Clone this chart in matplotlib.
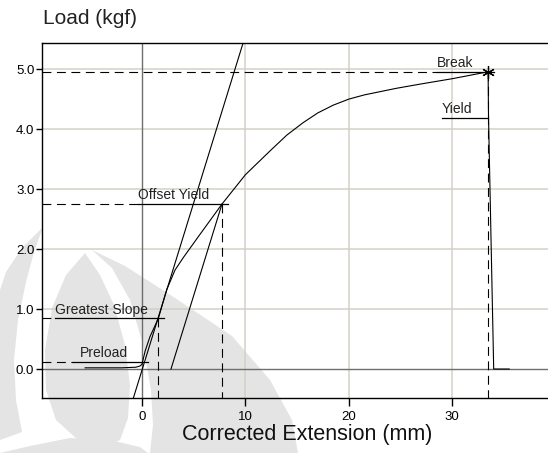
import matplotlib
matplotlib.use('Agg')
import matplotlib.pyplot as plt
from matplotlib.patches import Polygon
from matplotlib.transforms import Affine2D

plt.rcParams['font.family'] = ['Liberation Sans', 'DejaVu Sans']

# Load-extension curve (mm, kgf)
extension = [-5.5, -2.0, -0.6, -0.2, 0.0, 0.3, 0.77, 1.58, 2.38, 3.19, 4.0, 5.5,
             7.73, 10.0, 12.4, 14.0, 15.6, 17.0, 18.5, 20.0, 21.5, 24.6, 26.9,
             30.0, 33.46, 33.5, 34.0, 35.5]
load = [0.02, 0.02, 0.03, 0.05, 0.08, 0.30, 0.54, 0.845, 1.32, 1.65, 1.86, 2.22,
        2.75, 3.24, 3.64, 3.90, 4.11, 4.27, 4.40, 4.50, 4.57, 4.68, 4.75,
        4.84, 4.955, 4.19, 0.0, 0.0]

# greatest slope construction line and the offset line
slope = 0.558
slope_x0 = 0.03
slope_ext = [-0.84, 9.78]
offset_ext = [2.8, 7.73]

# labelled points: name, load, label start, label end, vertical dashed at
labels = ['Preload', 'Greatest Slope', 'Offset Yield', 'Break', 'Yield']
label_load = [0.12, 0.845, 2.75, 4.955, 4.19]
label_from = [-6.7, -8.4, -0.39, 28.49, 28.98]
label_to = [0.6, 2.15, 8.34, 34.03, 33.46]
label_drop = [None, 1.57, 7.73, 33.46, None]
text_from = [-6.0, -8.4, -0.39, 28.49, 28.98]

break_ext = 33.46
break_load = 4.955

xticks = [0, 10, 20, 30]
yticks = [0.0, 1.0, 2.0, 3.0, 4.0, 5.0]
xmin, xmax = -9.67, 39.25
ymin, ymax = -0.483, 5.44

W, H = 548, 453
fig = plt.figure(figsize=(W / 100, H / 100), dpi=100)

# faint watermark behind the chart (pixel coordinates)
px = Affine2D().scale(1 / W, -1 / H).translate(0, 1) + fig.transFigure
wm = '#e4e4e4'
shapes = [
    [(43, 227), (22, 248), (6, 272), (0, 290), (0, 440), (22, 432), (16, 400),
     (14, 360), (18, 320), (26, 282), (34, 252)],
    [(85, 253), (66, 275), (52, 308), (45, 350), (46, 390), (56, 420), (78, 440),
     (104, 448), (120, 440), (128, 418), (130, 385), (125, 345), (114, 305),
     (100, 275)],
    [(92, 250), (112, 268), (130, 300), (143, 345), (151, 390), (153, 425),
     (150, 453), (298, 453), (292, 420), (270, 380), (232, 336), (172, 296),
     (125, 266)],
    [(0, 453), (30, 446), (70, 438), (110, 440), (140, 447), (148, 453)],
]
for s in shapes:
    fig.patches.append(Polygon(s, closed=True, facecolor=wm, edgecolor='none',
                               transform=px, zorder=-1))

ax = fig.add_axes([42 / W, 1 - 398 / H, (W - 42) / W, (398 - 42.7) / H])
ax.set_facecolor('none')
ax.set_xlim(xmin, xmax)
ax.set_ylim(ymin, ymax)

ax.set_xticks(xticks)
ax.set_xticklabels([str(t) for t in xticks])
ax.set_yticks(yticks)
ax.set_yticklabels(['%.1f' % t for t in yticks])
ax.tick_params(axis='x', length=6, width=1, pad=3, labelsize=9.5)
ax.tick_params(axis='y', length=4, width=1, pad=1.5, labelsize=9.5)

for t in xticks[1:]:
    ax.axvline(t, color='#d4d0c8', lw=1.1, zorder=0)
for t in yticks[1:]:
    ax.axhline(t, color='#d4d0c8', lw=1.1, zorder=0)
ax.axvline(0, color='#6e6e6e', lw=1.0, zorder=0.5)
ax.axhline(0, color='#6e6e6e', lw=1.0, zorder=0.5)

ax.spines['right'].set_visible(False)
for side in ['top', 'bottom', 'left']:
    ax.spines[side].set_linewidth(1.0)

dash = (0, (8, 5))
for name, y, x0, x1, xd, xt in zip(labels, label_load, label_from, label_to,
                                   label_drop, text_from):
    if name != 'Yield':
        ax.plot([xmin, x0], [y, y], color='black', lw=0.8, ls=dash)
    ax.plot([x0, x1], [y, y], color='black', lw=0.9)
    if xd is not None:
        ax.plot([xd, xd], [y, ymin], color='black', lw=0.8, ls=dash)
    ax.annotate(name, (xt, y), xytext=(0, 1.2), textcoords='offset points',
                ha='left', va='bottom', fontsize=10, color='#222222')

ax.plot(slope_ext, [slope * (x - slope_x0) for x in slope_ext],
        color='black', lw=0.8)
ax.plot(offset_ext, [slope * (x - offset_ext[0]) for x in offset_ext],
        color='black', lw=0.8)
ax.plot(extension, load, color='black', lw=0.8)
ax.plot([break_ext], [break_load], marker=(6, 2, 0), ms=9, mew=0.9,
        color='black')

fig.text(43 / W, 1 - 23.5 / H, 'Load (kgf)', fontsize=15, ha='left',
         va='baseline', color='#222222')
fig.text(307 / W, 1 - 440 / H, 'Corrected Extension (mm)', fontsize=15.5,
         ha='center', va='baseline', color='#111111')

fig.savefig('out.png', dpi=100)
